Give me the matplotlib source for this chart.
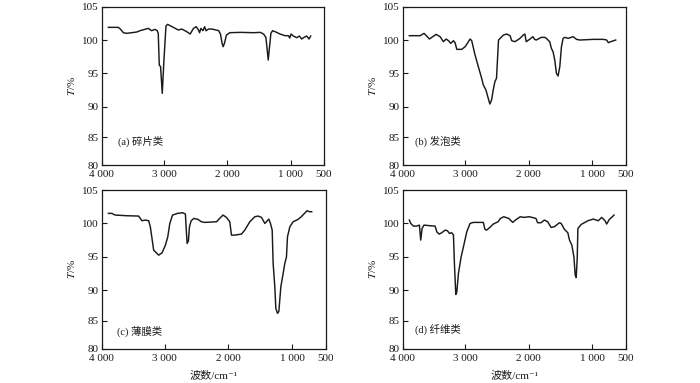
import numpy as np
import matplotlib
matplotlib.use("Agg")
import matplotlib.pyplot as plt

plt.rcParams['font.family'] = ['Liberation Serif', 'Noto Sans CJK SC', 'DejaVu Sans']
plt.rcParams['mathtext.fontset'] = 'stix'

# ---------------- data (wavenumber cm^-1, transmittance %) ----------------
A_WN = [3894, 3734, 3697, 3654, 3601, 3441, 3388, 3255, 3202, 3149, 3112, 3096, 3080, 3059, 3032,
        3005, 2973, 2947, 2856, 2775, 2722, 2642, 2588, 2535, 2492, 2455, 2439, 2417, 2385, 2358,
        2337, 2294, 2241, 2134, 2107, 2080, 2064, 2043, 2011, 1958, 1792, 1583, 1479, 1427, 1391,
        1375, 1354, 1333, 1312, 1286, 1245, 1167, 1089, 1036, 1016, 995, 960, 910, 870, 835,
        800, 760, 725, 700]
A_T = [101.9, 101.9, 101.6, 101.1, 101.0, 101.2, 101.4, 101.75, 101.4, 101.6, 101.4, 101.0, 96.25, 96.0, 92.0,
       97.0, 102.1, 102.35, 101.9, 101.5, 101.65, 101.25, 100.9, 101.75, 102.0, 101.5, 101.1, 101.75, 101.4, 102.0,
       101.4, 101.65, 101.65, 101.4, 100.9, 99.5, 99.0, 99.5, 100.75, 101.1, 101.15, 101.1, 101.15, 100.9, 100.4,
       99.0, 97.0, 99.0, 101.0, 101.4, 101.25, 100.9, 100.65, 100.65, 100.3, 100.9, 100.6, 100.35, 100.6, 100.15,
       100.4, 100.6, 100.15, 100.6]

B_WN = [3894, 3723, 3660, 3617, 3574, 3537, 3468, 3404, 3351, 3309, 3271, 3234, 3191, 3165, 3138,
        3059, 3005, 2953, 2927, 2901, 2848, 2796, 2743, 2717, 2675, 2639, 2613, 2586, 2560, 2534,
        2508, 2476, 2398, 2345, 2293, 2267, 2215, 2136, 2084, 2058, 2037, 1984, 1932, 1905, 1879,
        1800, 1747, 1721, 1668, 1642, 1616, 1589, 1563, 1537, 1510, 1484, 1458, 1432, 1379, 1300,
        1247, 1195, 985, 835, 785, 760, 725, 650]
B_T = [100.65, 100.65, 101.0, 100.6, 100.15, 100.4, 100.85, 100.5, 99.75, 100.15, 99.9, 99.5, 99.9, 99.6, 98.6,
       98.6, 99.0, 99.75, 100.15, 99.9, 97.75, 96.0, 94.25, 93.25, 92.5, 91.25, 90.4, 91.0, 92.5, 93.75,
       94.25, 100.0, 100.75, 100.9, 100.65, 99.9, 99.75, 100.25, 100.75, 100.9, 99.75, 100.1, 100.5, 100.1, 100.0,
       100.4, 100.4, 100.25, 99.75, 98.75, 98.25, 97.0, 95.0, 94.6, 96.0, 99.0, 100.25, 100.4, 100.25, 100.5,
       100.1, 100.0, 100.1, 100.1, 100.0, 99.6, 99.75, 100.0]

C_WN = [3894, 3840, 3787, 3601, 3415, 3362, 3309, 3255, 3229, 3202, 3176, 3122, 3096, 3043, 2989,
        2952, 2920, 2877, 2797, 2717, 2674, 2663, 2647, 2626, 2610, 2583, 2540, 2476, 2423, 2369,
        2182, 2134, 2080, 2027, 1974, 1948, 1896, 1792, 1740, 1661, 1583, 1531, 1479, 1427, 1401,
        1365, 1339, 1312, 1297, 1271, 1255, 1229, 1208, 1177, 1141, 1115, 1089, 1073, 1036, 985,
        913, 864, 816, 777, 743, 709]
C_T = [101.5, 101.5, 101.25, 101.15, 101.1, 100.4, 100.5, 100.4, 99.5, 97.75, 96.0, 95.5, 95.25, 95.6, 96.75,
       98.0, 100.0, 101.25, 101.5, 101.6, 101.4, 99.5, 97.0, 97.4, 99.5, 100.4, 100.75, 100.6, 100.25, 100.15,
       100.25, 100.75, 101.25, 100.9, 100.25, 98.25, 98.25, 98.4, 99.0, 100.25, 101.0, 101.1, 100.9, 100.0, 100.25,
       100.65, 100.0, 99.0, 94.0, 90.5, 87.0, 86.2, 86.5, 90.5, 92.5, 94.0, 95.0, 98.0, 99.5, 100.25,
       100.6, 101.0, 101.5, 101.9, 101.75, 101.75]

D_WN = [3894, 3872, 3830, 3777, 3734, 3713, 3691, 3660, 3564, 3484, 3457, 3420, 3378, 3324, 3287,
        3255, 3218, 3191, 3176, 3154, 3138, 3112, 3069, 3032, 2979, 2927, 2874, 2770, 2717, 2691,
        2665, 2613, 2560, 2482, 2445, 2393, 2314, 2288, 2251, 2209, 2131, 2079, 1989, 1884, 1858,
        1805, 1753, 1700, 1647, 1595, 1516, 1489, 1437, 1384, 1358, 1321, 1289, 1268, 1253, 1237,
        1226, 1174, 1068, 985, 910, 860, 810, 785, 745, 700, 675]
D_T = [100.5, 100.0, 99.6, 99.6, 99.75, 97.5, 99.25, 99.75, 99.65, 99.6, 98.75, 98.4, 98.6, 99.0, 98.9,
       98.5, 98.6, 98.25, 94.0, 89.3, 89.7, 92.5, 95.0, 96.5, 98.75, 100.0, 100.15, 100.15, 100.15, 99.1,
       99.0, 99.4, 99.9, 100.25, 100.75, 101.0, 100.75, 100.5, 100.15, 100.5, 101.0, 100.9, 101.0, 100.75, 100.1,
       100.1, 100.5, 100.25, 99.4, 99.5, 100.1, 100.0, 99.1, 98.6, 97.5, 96.75, 95.0, 92.25, 91.9, 94.75,
       99.25, 99.85, 100.4, 100.65, 100.4, 100.9, 100.4, 99.9, 100.6, 101.0, 101.25]

PANEL_LABELS = ['(a) 碎片类', '(b) 发泡类', '(c) 薄膜类', '(d) 纤维类']
X_TICKS = [4000, 3000, 2000, 1000, 500]
X_TICKLABELS = ['4 000', '3 000', '2 000', '1 000', '500']
Y_TICKS = [80, 85, 90, 95, 100, 105]
Y_LABEL = r'$\mathit{T}$/%'
X_LABEL = '波数/cm⁻¹'

# the original axes are slightly non-uniform; reproduce with piecewise-linear scales
X_KNOTS = np.array([500, 1000, 2000, 3000, 4000], float)
X_POS = np.array([0, 100, 291, 480, 668], float)
Y_KNOTS = np.array([80, 85, 90, 95, 100, 105], float)
Y_POS = np.array([0, 84, 175, 275, 375, 475], float)


def _pw(v, xp, fp):
    v = np.asarray(v, float)
    out = np.interp(v, xp, fp)
    lo_s = (fp[1] - fp[0]) / (xp[1] - xp[0])
    hi_s = (fp[-1] - fp[-2]) / (xp[-1] - xp[-2])
    out = np.where(v < xp[0], fp[0] + (v - xp[0]) * lo_s, out)
    out = np.where(v > xp[-1], fp[-1] + (v - xp[-1]) * hi_s, out)
    return out


def fx(v):
    return _pw(v, X_KNOTS, X_POS)


def ifx(v):
    return _pw(v, X_POS, X_KNOTS)


def fy(v):
    return _pw(v, Y_KNOTS, Y_POS)


def ify(v):
    return _pw(v, Y_POS, Y_KNOTS)


fig = plt.figure(figsize=(7.0, 3.83), dpi=100)

W, H = 700.0, 383.0
boxes = [
    (101.7, 6.7, 324.0, 165.0),
    (402.7, 6.7, 625.7, 165.0),
    (101.7, 190.0, 325.7, 348.7),
    (402.7, 190.0, 625.7, 348.7),
]
label_pos = [(0.075, 0.147), (0.055, 0.147), (0.067, 0.112), (0.055, 0.12)]
series = [(A_WN, A_T), (B_WN, B_T), (C_WN, C_T), (D_WN, D_T)]

for i, (l, t, r, b) in enumerate(boxes):
    ax = fig.add_axes([l / W, 1 - b / H, (r - l) / W, (b - t) / H])
    ax.set_xscale('function', functions=(fx, ifx))
    ax.set_yscale('function', functions=(fy, ify))
    wn, tt = series[i]
    ax.plot(wn, tt, color='#1a1a1a', lw=1.05)
    ax.set_xlim(4000, 500)
    ax.set_ylim(80, 105)
    ax.set_xticks(X_TICKS)
    ax.set_xticklabels(X_TICKLABELS)
    ax.set_yticks(Y_TICKS)
    ax.set_yticklabels([str(v) for v in Y_TICKS])
    ax.minorticks_off()
    ax.tick_params(direction='in', length=3.5, width=0.8, labelsize=8, pad=2.5,
                   top=False, right=False, colors='#1a1a1a')
    ax.tick_params(axis='x', pad=3.6)
    for s in ax.spines.values():
        s.set_linewidth(0.9)
        s.set_color('#1a1a1a')
    ax.set_ylabel(Y_LABEL, fontsize=8, color='#1a1a1a')
    ax.yaxis.set_label_coords(-0.137, 0.5)
    ax.yaxis.label.set_verticalalignment('center')
    if i >= 2:
        ax.set_xlabel(X_LABEL, fontsize=8, color='#1a1a1a')
        ax.xaxis.set_label_coords(0.5, -0.165)
        ax.xaxis.label.set_verticalalignment('center')
    ax.text(label_pos[i][0], label_pos[i][1], PANEL_LABELS[i], transform=ax.transAxes,
            fontsize=7.5, ha='left', va='center', color='#1a1a1a')

fig.savefig('out.png', dpi=100)
